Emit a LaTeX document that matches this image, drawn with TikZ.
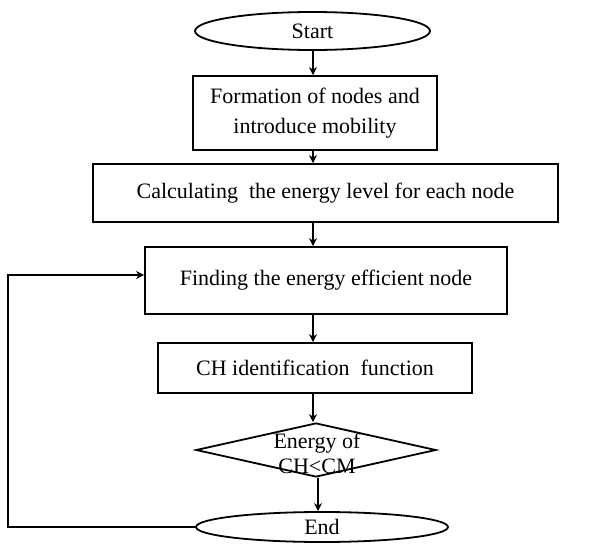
\documentclass[tikz,border=0pt]{standalone}
\usepackage{fontspec}
\setmainfont{Liberation Serif}
\usetikzlibrary{shapes.geometric,arrows.meta}
\begin{document}
\begin{tikzpicture}[x=1pt,y=1pt,
  every node/.style={font=\fontsize{22}{30}\selectfont, align=center, inner sep=0pt},
  box/.style={draw, line width=1.8pt, rectangle},
  oval/.style={draw, line width=1.8pt, ellipse},
  dec/.style={draw, line width=1.8pt, diamond},
  arr/.style={line width=1.8pt, -{Stealth[length=8pt,width=8pt]}}]
\useasboundingbox[fill=white] (0,0) rectangle (606,-552);
\node[oval, minimum width=235, minimum height=38] (start) at (312.5,-31) {Start};
\node[box, minimum width=244, minimum height=74] (form) at (315,-113) {Formation of nodes and\\introduce mobility};
\node[box, minimum width=465, minimum height=58] (calc) at (325.5,-193) {Calculating\ \ the energy level for each node};
\node[box, minimum width=362, minimum height=67] (find) at (326,-280.5) {Finding the energy efficient node};
\node[box, minimum width=314, minimum height=50] (ch) at (315,-368) {CH identification\ \ function};
\node[dec, minimum width=240, minimum height=54, aspect=4.4] (dia) at (316,-450) {};
\node[font=\fontsize{22}{25}\selectfont] (diatext) at (317,-453) {Energy of\\CH<CM};
\node[oval, minimum width=252, minimum height=30] (end) at (322,-527) {End};
\coordinate (loopin) at (find.west |- 0,-275);
\coordinate (c1) at (8,-527);
\coordinate (c2) at (8,-275);
\draw[arr] (start.south -| 313,0) -- (form.north -| 313,0);
\draw[arr] (form.south -| 313,0) -- (calc.north -| 313,0);
\draw[arr] (calc.south -| 313,0) -- (find.north -| 313,0);
\draw[arr] (find.south -| 313,0) -- (ch.north -| 313,0);
\draw[arr] (ch.south -| 313,0) -- (dia.north -| 313,0);
\draw[arr] (dia.south -| 318,0) -- (end.north -| 318,0);
\draw[arr] (end.west) -- (c1) -- (c2) -- (loopin);
\end{tikzpicture}
\end{document}
